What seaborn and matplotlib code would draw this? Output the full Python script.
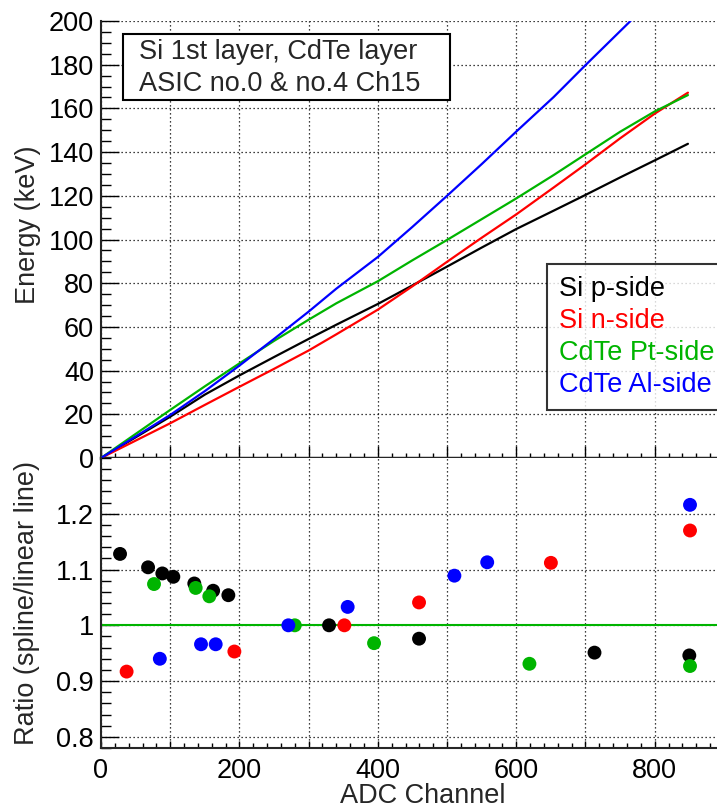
import numpy as np
import pandas as pd
import matplotlib
matplotlib.use("Agg")
import matplotlib.pyplot as plt
from matplotlib.ticker import MultipleLocator, FuncFormatter
from matplotlib.patches import Rectangle
import seaborn as sns

sns.set_style("white")
plt.rcParams['font.family'] = ['Liberation Sans', 'DejaVu Sans']

# ---------------- data ----------------
series_names = ["Si p-side", "Si n-side", "CdTe Pt-side", "CdTe Al-side"]
series_colors = ["#000000", "#ff0000", "#00b400", "#0000ff"]

# calibration curves (ADC channel -> energy keV)
p_ch = [0, 100, 150, 200, 250, 300, 340, 400, 450, 500, 550, 600, 654, 700, 750, 800, 848]
p_E = [0, 18.9, 29.0, 37.8, 46.2, 54.5, 61.0, 70.5, 79.0, 87.6, 96.3, 104.8, 113.2, 120.4, 128.4, 136.2, 143.8]

n_ch = [0, 100, 150, 200, 250, 300, 340, 400, 450, 500, 550, 600, 654, 700, 750, 800, 848]
n_E = [0, 15.9, 24.3, 32.6, 40.8, 49.2, 56.6, 67.9, 78.6, 89.8, 100.8, 111.5, 123.8, 134.4, 146.3, 157.6, 167.2]

pt_ch = [0, 100, 150, 200, 250, 300, 340, 400, 450, 500, 550, 600, 654, 700, 750, 800, 848]
pt_E = [0, 22.0, 32.8, 43.3, 53.6, 63.3, 70.8, 80.9, 90.5, 99.8, 109.3, 118.8, 129.5, 139.0, 149.3, 158.6, 166.1]

al_ch = [0, 100, 150, 200, 250, 300, 340, 400, 450, 500, 550, 600, 654, 700, 765]
al_E = [0, 19.7, 30.6, 42.3, 54.5, 67.0, 77.5, 92.0, 105.8, 120.0, 134.5, 149.4, 165.2, 179.8, 200.0]

# ratio points (spline / linear line)
p_rch = [27.5, 68, 88.6, 104.5, 134.8, 162, 184, 329.5, 459.5, 713, 850]
p_r = [1.128, 1.104, 1.093, 1.087, 1.075, 1.062, 1.054, 1.000, 0.976, 0.951, 0.946]

n_rch = [37, 192.7, 351.6, 459.5, 650, 851]
n_r = [0.917, 0.953, 1.000, 1.041, 1.112, 1.170]

pt_rch = [76.6, 136.8, 156.5, 280, 394.5, 619, 851]
pt_r = [1.074, 1.067, 1.052, 1.000, 0.968, 0.931, 0.927]

al_rch = [85, 144.5, 165.7, 270.7, 356.4, 510.6, 558, 851]
al_r = [0.940, 0.966, 0.966, 1.000, 1.033, 1.089, 1.113, 1.216]

x_tick_labels = ["0", "200", "400", "600", "800"]

curves = [(p_ch, p_E), (n_ch, n_E), (pt_ch, pt_E), (al_ch, al_E)]
ratios = [(p_rch, p_r), (n_rch, n_r), (pt_rch, pt_r), (al_rch, al_r)]

# ---------------- layout ----------------
W, H = 717, 809
fig = plt.figure(figsize=(W / 100, H / 100), dpi=100)

def fx(px):
    return px / W

def fy(py):
    return 1 - py / H

L, R = 101, 717
ax1 = fig.add_axes([fx(L), fy(458), fx(R) - fx(L), fy(21) - fy(458)])
ax2 = fig.add_axes([fx(L), fy(748), fx(R) - fx(L), fy(458) - fy(748)])

FS = 19.5

# top panel lines
for (ch, E), name, col in zip(curves, series_names, series_colors):
    df = pd.DataFrame({"ch": ch, "E": E})
    sns.lineplot(data=df, x="ch", y="E", ax=ax1, color=col, lw=1.6,
                 sort=False, estimator=None, label=name, legend=False, zorder=3)

# bottom panel points
ax2.axhline(1.0, color="#00b400", lw=1.5, zorder=2)
for (ch, r), name, col in zip(ratios, series_names, series_colors):
    df = pd.DataFrame({"ch": ch, "r": r})
    sns.scatterplot(data=df, x="ch", y="r", ax=ax2, color=col, s=100,
                    edgecolor="none", linewidth=0, legend=False, zorder=3)

for ax in (ax1, ax2):
    ax.set_xlim(0, 890)
    ax.xaxis.set_major_locator(MultipleLocator(100))
    ax.xaxis.set_minor_locator(MultipleLocator(20))
    ax.grid(True, which="major", color="black", ls=(0, (1, 2.2)), lw=0.9, zorder=0)
    ax.set_axisbelow(True)
    ax.spines["top"].set_visible(False)
    ax.spines["right"].set_visible(False)
    ax.spines["left"].set_linewidth(1.5)
    ax.tick_params(which="both", direction="in", colors="black", labelsize=FS,
                   left=True, bottom=True, right=False, top=False)
    ax.tick_params(axis="y", which="major", length=13, width=1.0, pad=5)
    ax.tick_params(axis="y", which="minor", length=7, width=1.0)
    ax.set_facecolor("white")

ax1.set_ylim(0, 200)
ax1.yaxis.set_major_locator(MultipleLocator(20))
ax1.yaxis.set_minor_locator(MultipleLocator(5))
ax1.tick_params(axis="x", which="major", length=8.5, width=1.0, labelbottom=False)
ax1.tick_params(axis="x", which="minor", length=3.6, width=1.0)
ax1.spines["bottom"].set_linewidth(2.5)
ax1.set_xlabel("")
ax1.set_ylabel("Energy (keV)", fontsize=FS, va="center", ha="center")
ax1.yaxis.set_label_coords((28 - L) / (R - L), (458 - 225) / (458 - 21))

ax2.set_ylim(0.78, 1.3)
ax2.set_yticks([0.8, 0.9, 1.0, 1.1, 1.2])
ax2.yaxis.set_minor_locator(MultipleLocator(0.02))
ax2.yaxis.set_major_formatter(FuncFormatter(lambda v, p: "%g" % round(v, 2)))
lab_map = {int(t): t for t in x_tick_labels}
ax2.xaxis.set_major_formatter(FuncFormatter(
    lambda v, p: lab_map.get(int(round(v)), "") if abs(v - round(v)) < 1e-6 else ""))
ax2.tick_params(axis="x", which="major", length=5, width=1.0, pad=7)
ax2.tick_params(axis="x", which="minor", length=3.6, width=1.0)
ax2.spines["bottom"].set_linewidth(1.5)
ax2.set_xlabel("ADC Channel", fontsize=FS, va="center", ha="center")
ax2.xaxis.set_label_coords((423 - L) / (R - L), (748 - 796) / (748 - 458))
ax2.set_ylabel("Ratio (spline/linear line)", fontsize=FS, va="center", ha="center")
ax2.yaxis.set_label_coords((27 - L) / (R - L), 0.5)

# legend (text coloured, no handles)
handles = [plt.Line2D([], [], color=c, lw=0) for c in series_colors]
leg = fig.legend(handles, series_names, loc="upper left",
                 bbox_to_anchor=(fx(547), fy(264)), bbox_transform=fig.transFigure,
                 fontsize=FS, handlelength=0, handletextpad=0, labelspacing=0.22,
                 borderpad=0.45, borderaxespad=0, frameon=True, fancybox=False)
leg.get_frame().set_edgecolor("black")
leg.get_frame().set_linewidth(1.5)
for t, c in zip(leg.get_texts(), series_colors):
    t.set_color(c)

# info box
fig.patches.append(Rectangle((fx(123), fy(100)), fx(450) - fx(123), fy(34) - fy(100),
                             transform=fig.transFigure, facecolor="white",
                             edgecolor="black", lw=1.5, zorder=5))
fig.text(fx(139), fy(52), "Si 1st layer, CdTe layer", fontsize=FS, va="center", ha="left", zorder=6)
fig.text(fx(139), fy(84), "ASIC no.0 & no.4 Ch15", fontsize=FS, va="center", ha="left", zorder=6)

fig.savefig("out.png", dpi=100)
